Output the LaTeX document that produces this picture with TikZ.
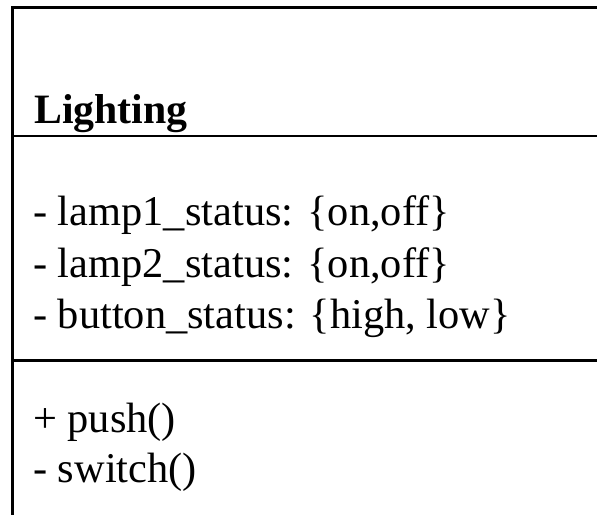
\documentclass[tikz,border=0pt]{standalone}
\usepackage{fontspec}
\setmainfont{Liberation Serif}
\usepackage{tikz}

\tikzset{member/.style={anchor=base west,inner sep=0pt,font=\fontsize{42.4}{50}\selectfont}}

\begin{document}
\begin{tikzpicture}[x=1pt,y=-1pt]
\useasboundingbox (0,0) rectangle (597,515);
\draw[line width=2.2pt] (597,7.5) -- (12.5,7.5) -- (12.5,515);
\draw[line width=2.2pt] (12.5,136) -- (597,136);
\draw[line width=2.2pt] (12.5,360.5) -- (597,360.5);
\node[member,font=\fontsize{41.8}{50}\selectfont\bfseries] (name) at (34,123) {Lighting};
\node[member] (attr1) at (33,225) {- lamp1\_status: \{on,off\}};
\node[member] (attr2) at (33,277) {- lamp2\_status: \{on,off\}};
\node[member] (attr3) at (33,328) {- button\_status: \{high, low\}};
\node[member] (op1) at (33,432) {+ push()};
\node[member] (op2) at (33,482) {- switch()};
\end{tikzpicture}
\end{document}
